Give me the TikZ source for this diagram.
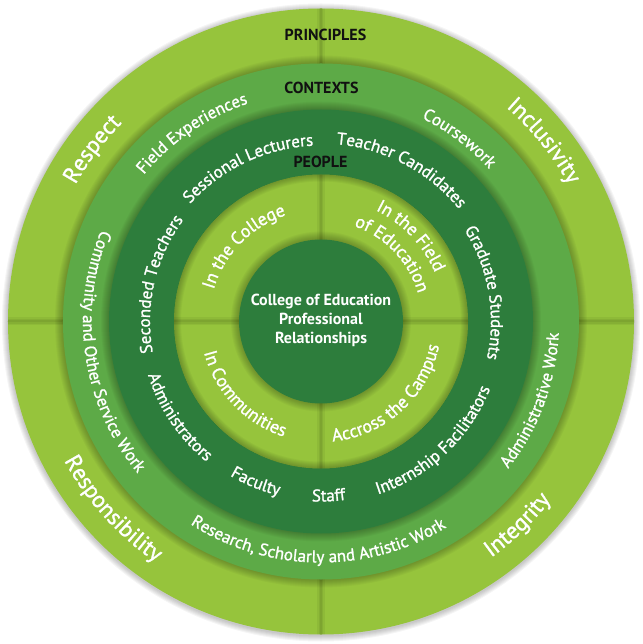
\documentclass[tikz,border=0pt]{standalone}
\usepackage{fontspec}
\setmainfont{PT Sans}
\newfontfamily\ringfont{PT Sans}[FakeBold=1.3]
\usetikzlibrary{decorations.text}
\definecolor{lightg}{HTML}{96C43C}
\definecolor{midg}{HTML}{5DAA47}
\definecolor{darkg}{HTML}{2D7D3C}
\definecolor{inklbl}{HTML}{111111}

% text along an arc; top half: clockwise (letter tops outward)
\newcommand\ArcTop[4]{% radius, mid angle, size, text
  \path[decorate,decoration={text along path,text align=center,text color=white,
    text={|\ringfont\fontsize{#3}{#3}\selectfont|#4}}]
    ({#2+85}:#1pt) arc[start angle={#2+85}, end angle={#2-85}, radius=#1pt];}
% bottom half: counter-clockwise (letter tops toward centre)
\newcommand\ArcBot[4]{%
  \path[decorate,decoration={text along path,text align=center,text color=white,
    text={|\ringfont\fontsize{#3}{#3}\selectfont|#4}}]
    ({#2-85}:#1pt) arc[start angle={#2-85}, end angle={#2+85}, radius=#1pt];}
\newcommand\DiscShadow[1]{%
  \foreach \k in {1,...,8}{\fill[black,fill opacity=0.03] (0,0) circle[radius={(#1+\k)*1pt}];}}
\newcommand\RimShadow[1]{%
  \begin{scope}\clip (0,0) circle[radius=#1pt];
  \foreach \k in {1,...,7}{\draw[black,draw opacity=0.035,line width={2*\k*1pt}] (0,0) circle[radius=#1pt];}
  \end{scope}}
\newcommand\Dividers[3]{% inner r, outer r, clip r
  \begin{scope}\clip (0,0) circle[radius=#3pt];
  \foreach \a in {0,90,180,270}{
    \draw[black,draw opacity=0.05,line width=8pt] (\a:#1pt) -- (\a:#2pt);
    \draw[black,draw opacity=0.06,line width=4.5pt] (\a:#1pt) -- (\a:#2pt);
    \draw[black,draw opacity=0.06,line width=2pt] (\a:#1pt) -- (\a:#2pt);}
  \end{scope}}

\tikzset{
  heading/.style={font=\bfseries\fontsize{16}{16}\selectfont, text=inklbl, inner sep=0pt},
  centretext/.style={font=\bfseries\fontsize{16}{19}\selectfont, text=white, align=center, inner sep=0pt}
}

\begin{document}
\begin{tikzpicture}[x=1pt,y=1pt]
\useasboundingbox (-321,-322.5) rectangle (321,321.5);

% outer ring: principles
\foreach \k in {1,...,6}{\fill[black,fill opacity=0.04] (0,-1) circle[radius={(313+\k)*1pt}];}
\fill[lightg] (0,0) coordinate (c) circle[radius=313pt];
\Dividers{250}{320}{313}

% contexts
\DiscShadow{258}
\fill[midg] (0,0) circle[radius=258pt];

% people
\DiscShadow{212}
\fill[darkg] (0,0) circle[radius=212pt];

% inner quadrant ring
\fill[lightg] (0,0) circle[radius=147pt];
\RimShadow{147}
\Dividers{75}{150}{147}

% centre
\DiscShadow{82}
\fill[darkg] (0,0) circle[radius=82pt];

% headings
\node[heading] (principles) at (4.5,286.5) {PRINCIPLES};
\node[heading] (contexts) at (0.5,233.5) {CONTEXTS};
\node[heading] (people) at (-0.5,159.5) {PEOPLE};
\node[centretext] (core) at (0,1.5) {College of Education\\Professional\\Relationships};

% principles ring
\ArcTop{281}{143}{23}{Respect}
\ArcTop{283}{39}{23}{Inclusivity}
\ArcBot{292}{222}{23}{Responsibility}
\ArcBot{291}{314}{23}{Integrity}

% contexts ring
\ArcTop{230}{124.4}{17}{Field Experiences}
\ArcTop{227}{52.9}{17}{Coursework}
\ArcBot{238}{339.5}{17}{Administrative Work}
\ArcBot{241}{269.3}{17}{Research, Scholarly and Artistic Work}
\ArcBot{238}{188.5}{17}{Community and Other Service Work}

% people ring
\ArcTop{176}{115.3}{17}{Sessional Lecturers}
\ArcTop{178}{62.1}{17}{Teacher Candidates}
\ArcTop{170}{10}{17}{Graduate Students}
\ArcTop{171}{167}{17}{Seconded Teachers}
\ArcBot{182}{313.3}{17}{Internship Facilitators}
\ArcBot{180}{272.5}{17}{Staff}
\ArcBot{179}{247.9}{17}{Faculty}
\ArcBot{181}{214}{17}{Administrators}

% inner ring
\ArcTop{112}{135.8}{18}{In the College}
\ArcTop{124}{43.5}{18}{In the Field}
\ArcTop{101}{43.5}{18}{of Education}
\ArcBot{121}{223.5}{18}{In Communities}
\ArcBot{120.5}{312}{18}{Accross the Campus}
\end{tikzpicture}
\end{document}
